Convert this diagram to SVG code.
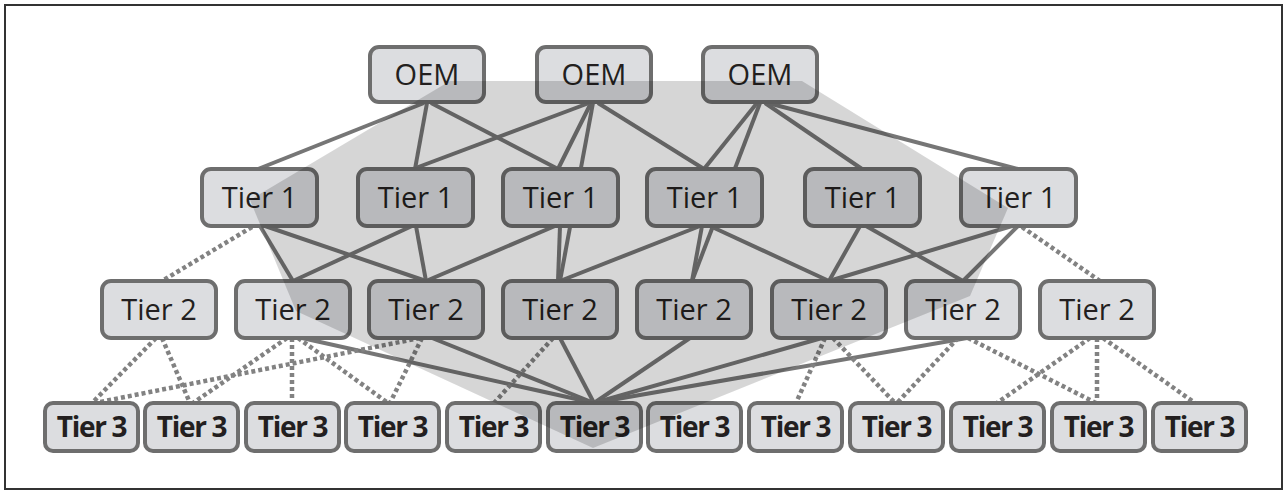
<svg xmlns="http://www.w3.org/2000/svg" width="1287" height="492" viewBox="0 0 1287 492">
<style>
.frame{fill:#fff;stroke:#333;stroke-width:2}
.box{fill:#dcdde0;stroke:#6e6e6e;stroke-width:4}
.lbl{font-family:"Open Sans","Liberation Sans",sans-serif;font-size:29px;fill:#231f20;text-anchor:middle}
.lbl3{font-family:"Open Sans","Liberation Sans",sans-serif;font-size:28px;font-weight:bold;fill:#231f20;text-anchor:middle;letter-spacing:-1.3px}
.s{stroke:#767676;stroke-width:4;fill:none}
.d{stroke:#828282;stroke-width:4.5;fill:none;stroke-dasharray:4 3}
.hl{fill:#000;fill-opacity:0.16}
</style>
<rect class="frame" x="5" y="5" width="1277" height="484"/>
<g id="connectors">
<line class="s" x1="424" y1="103" x2="258" y2="169"/>
<line class="s" x1="427" y1="103" x2="415" y2="169"/>
<line class="s" x1="431" y1="103" x2="558" y2="169"/>
<line class="s" x1="589" y1="103" x2="413" y2="169"/>
<line class="s" x1="591" y1="103" x2="558" y2="169"/>
<line class="s" x1="593" y1="103" x2="560" y2="281"/>
<line class="s" x1="598" y1="103" x2="704" y2="169"/>
<line class="s" x1="757" y1="103" x2="704" y2="169"/>
<line class="s" x1="760" y1="103" x2="692" y2="281"/>
<line class="s" x1="765" y1="103" x2="862" y2="169"/>
<line class="s" x1="768" y1="103" x2="1018" y2="169"/>
<line class="s" x1="260" y1="226" x2="293" y2="281"/>
<line class="s" x1="265" y1="226" x2="426" y2="281"/>
<line class="s" x1="412" y1="226" x2="293" y2="281"/>
<line class="s" x1="416" y1="226" x2="426" y2="281"/>
<line class="s" x1="555" y1="226" x2="426" y2="281"/>
<line class="s" x1="560" y1="226" x2="558" y2="281"/>
<line class="s" x1="700" y1="226" x2="560" y2="281"/>
<line class="s" x1="702" y1="226" x2="692" y2="281"/>
<line class="s" x1="710" y1="226" x2="829" y2="281"/>
<line class="s" x1="860" y1="226" x2="829" y2="281"/>
<line class="s" x1="866" y1="226" x2="963" y2="281"/>
<line class="s" x1="1012" y1="226" x2="829" y2="281"/>
<line class="s" x1="1018" y1="226" x2="963" y2="281"/>
<line class="s" x1="302" y1="338" x2="594" y2="403"/>
<line class="s" x1="432" y1="338" x2="594" y2="403"/>
<line class="s" x1="560" y1="338" x2="594" y2="403"/>
<line class="s" x1="690" y1="338" x2="594" y2="403"/>
<line class="s" x1="822" y1="338" x2="594" y2="403"/>
<line class="s" x1="967" y1="338" x2="594" y2="403"/>
<line class="d" x1="252" y1="227" x2="162" y2="281"/>
<line class="d" x1="1022" y1="227" x2="1100" y2="281"/>
<line class="d" x1="156" y1="338" x2="92" y2="403"/>
<line class="d" x1="162" y1="338" x2="190" y2="403"/>
<line class="d" x1="287" y1="338" x2="193" y2="403"/>
<line class="d" x1="292" y1="338" x2="292" y2="403"/>
<line class="d" x1="298" y1="338" x2="388" y2="403"/>
<line class="d" x1="420" y1="338" x2="95" y2="403"/>
<line class="d" x1="422" y1="338" x2="390" y2="403"/>
<line class="d" x1="553" y1="338" x2="494" y2="403"/>
<line class="d" x1="825" y1="338" x2="796" y2="403"/>
<line class="d" x1="833" y1="338" x2="895" y2="403"/>
<line class="d" x1="958" y1="338" x2="897" y2="403"/>
<line class="d" x1="968" y1="338" x2="1096" y2="403"/>
<line class="d" x1="1090" y1="338" x2="997" y2="403"/>
<line class="d" x1="1097" y1="338" x2="1097" y2="403"/>
<line class="d" x1="1103" y1="338" x2="1195" y2="403"/>
</g>
<g id="oem1"><rect class="box" x="370" y="47" width="114" height="55" rx="9"/><text class="lbl" x="427" y="85">OEM</text></g>
<g id="oem2"><rect class="box" x="537" y="47" width="114" height="55" rx="9"/><text class="lbl" x="594" y="85">OEM</text></g>
<g id="oem3"><rect class="box" x="703" y="47" width="114" height="55" rx="9"/><text class="lbl" x="760" y="85">OEM</text></g>
<g id="t1a"><rect class="box" x="202" y="169" width="115" height="57" rx="9"/><text class="lbl" x="259.5" y="208">Tier 1</text></g>
<g id="t1b"><rect class="box" x="358" y="169" width="115" height="57" rx="9"/><text class="lbl" x="415.5" y="208">Tier 1</text></g>
<g id="t1c"><rect class="box" x="503" y="169" width="115" height="57" rx="9"/><text class="lbl" x="560.5" y="208">Tier 1</text></g>
<g id="t1d"><rect class="box" x="647" y="169" width="115" height="57" rx="9"/><text class="lbl" x="704.5" y="208">Tier 1</text></g>
<g id="t1e"><rect class="box" x="805" y="169" width="115" height="57" rx="9"/><text class="lbl" x="862.5" y="208">Tier 1</text></g>
<g id="t1f"><rect class="box" x="961" y="169" width="115" height="57" rx="9"/><text class="lbl" x="1018.5" y="208">Tier 1</text></g>
<g id="t2a"><rect class="box" x="102" y="281" width="114" height="57" rx="9"/><text class="lbl" x="159" y="320">Tier 2</text></g>
<g id="t2b"><rect class="box" x="236" y="281" width="114" height="57" rx="9"/><text class="lbl" x="293" y="320">Tier 2</text></g>
<g id="t2c"><rect class="box" x="369" y="281" width="114" height="57" rx="9"/><text class="lbl" x="426" y="320">Tier 2</text></g>
<g id="t2d"><rect class="box" x="503" y="281" width="114" height="57" rx="9"/><text class="lbl" x="560" y="320">Tier 2</text></g>
<g id="t2e"><rect class="box" x="637" y="281" width="114" height="57" rx="9"/><text class="lbl" x="694" y="320">Tier 2</text></g>
<g id="t2f"><rect class="box" x="772" y="281" width="114" height="57" rx="9"/><text class="lbl" x="829" y="320">Tier 2</text></g>
<g id="t2g"><rect class="box" x="906" y="281" width="114" height="57" rx="9"/><text class="lbl" x="963" y="320">Tier 2</text></g>
<g id="t2h"><rect class="box" x="1040" y="281" width="114" height="57" rx="9"/><text class="lbl" x="1097" y="320">Tier 2</text></g>
<g id="t3a"><rect class="box" x="45" y="403" width="93" height="48" rx="8"/><text class="lbl3" x="91.5" y="437">Tier 3</text></g>
<g id="t3b"><rect class="box" x="145" y="403" width="93" height="48" rx="8"/><text class="lbl3" x="191.5" y="437">Tier 3</text></g>
<g id="t3c"><rect class="box" x="246" y="403" width="93" height="48" rx="8"/><text class="lbl3" x="292.5" y="437">Tier 3</text></g>
<g id="t3d"><rect class="box" x="346" y="403" width="93" height="48" rx="8"/><text class="lbl3" x="392.5" y="437">Tier 3</text></g>
<g id="t3e"><rect class="box" x="447" y="403" width="93" height="48" rx="8"/><text class="lbl3" x="493.5" y="437">Tier 3</text></g>
<g id="t3f"><rect class="box" x="548" y="403" width="93" height="48" rx="8"/><text class="lbl3" x="594.5" y="437">Tier 3</text></g>
<g id="t3g"><rect class="box" x="648" y="403" width="93" height="48" rx="8"/><text class="lbl3" x="694.5" y="437">Tier 3</text></g>
<g id="t3h"><rect class="box" x="749" y="403" width="93" height="48" rx="8"/><text class="lbl3" x="795.5" y="437">Tier 3</text></g>
<g id="t3i"><rect class="box" x="850" y="403" width="93" height="48" rx="8"/><text class="lbl3" x="896.5" y="437">Tier 3</text></g>
<g id="t3j"><rect class="box" x="951" y="403" width="93" height="48" rx="8"/><text class="lbl3" x="997.5" y="437">Tier 3</text></g>
<g id="t3k"><rect class="box" x="1052" y="403" width="93" height="48" rx="8"/><text class="lbl3" x="1098.5" y="437">Tier 3</text></g>
<g id="t3l"><rect class="box" x="1153" y="403" width="93" height="48" rx="8"/><text class="lbl3" x="1199.5" y="437">Tier 3</text></g>
<g id="highlight"><polygon class="hl" points="450,81 802,81 1008,208 970,296 593,448 296,311 250,200"/></g>
</svg>
